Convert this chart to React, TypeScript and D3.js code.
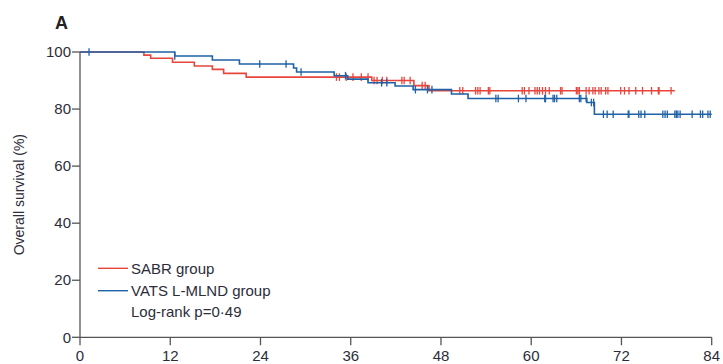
import * as d3 from "d3";

// Kaplan-Meier steps: [month, survival %]
const sabrSteps: [number, number][] = [
  [0, 100], [8.5, 98.9], [9.4, 97.8], [12.3, 96.4], [15.2, 95.1], [17.6, 93.9],
  [19.1, 92.5], [22.1, 91.2], [38.8, 90.0], [44.4, 88.2], [46.4, 86.4],
];
const sabrEnd = 79.1;
const sabrCensored = [
  34.1, 34.5, 35.4, 36.3, 37.4, 38.3, 39.1, 39.5, 40.2, 40.8, 42.8, 43.1, 43.9,
  45.5, 45.9, 50.5, 50.9, 52.6, 52.9, 53.2, 54.3, 54.5, 58.8, 59.1, 59.7, 60.5,
  60.8, 61.1, 61.5, 61.9, 62.4, 63.9, 64.1, 66.0, 66.2, 66.4, 67.3, 67.7, 68.2,
  68.5, 69.0, 69.3, 69.9, 70.2, 71.9, 72.4, 73.0, 73.9, 74.8, 76.0, 76.9, 77.0, 78.6,
];

const vatsSteps: [number, number][] = [
  [0, 100], [12.6, 98.6], [17.6, 97.2], [21.2, 95.8], [28.4, 94.4], [28.8, 93.0],
  [33.8, 91.7], [35.6, 90.5], [38.3, 89.2], [41.9, 88.1], [44.3, 86.8],
  [49.4, 85.3], [51.6, 83.7], [67.4, 82.3], [68.4, 78.2],
];
const vatsEnd = 84;
const vatsCensored = [
  1.2, 12.6, 23.9, 27.4, 29.4, 35.3, 40.1, 40.8, 44.6, 46.2, 46.8, 55.3, 55.6,
  58.3, 59.3, 61.8, 61.9, 62.9, 63.1, 63.4, 66.4, 66.6, 67.3, 68.0, 68.3, 69.6,
  70.1, 70.9, 72.9, 73.0, 74.3, 74.6, 75.1, 77.5, 77.8, 78.1, 79.1, 79.3, 79.5,
  79.8, 81.4, 82.5, 82.8, 83.5, 83.8,
];

const xTicks = [0, 12, 24, 36, 48, 60, 72, 84];
const yTicks = [0, 20, 40, 60, 80, 100];
const legendLabels = ["SABR group", "VATS L-MLND group"];
const pValueLabel = "Log-rank p=0·49";

const RED = "#e8453c";
const BLUE = "#1f62a6";
const FONT = "'Liberation Sans', Arial, sans-serif";

function survivalAt(steps: [number, number][], t: number) {
  let s = steps[0][1];
  for (const [m, v] of steps) if (m <= t) s = v;
  return s;
}

export default function App() {
  const width = 723;
  const height = 364;
  const x = d3.scaleLinear().domain([0, 84]).range([80, 711.7]);
  const y = d3.scaleLinear().domain([0, 100]).range([337.3, 52]);

  const line = d3
    .line<[number, number]>()
    .x((d) => x(d[0]))
    .y((d) => y(d[1]))
    .curve(d3.curveStepAfter);

  const curves = [
    { steps: sabrSteps, end: sabrEnd, cens: sabrCensored, color: RED },
    { steps: vatsSteps, end: vatsEnd, cens: vatsCensored, color: BLUE },
  ];

  return (
    <svg
      width={width}
      height={height}
      style={{ position: "absolute", left: 0, top: 0, fontFamily: FONT }}
    >
      <rect width={width} height={height} fill="#fff" />
      <text x={55} y={29} fontSize={18} fontWeight="bold" fill="#222">
        A
      </text>

      {/* axes */}
      <line x1={x(0)} x2={x(0)} y1={y(100)} y2={y(0)} stroke="#555" strokeWidth={1.3} />
      <line x1={x(0)} x2={x(84)} y1={y(0)} y2={y(0)} stroke="#555" strokeWidth={1.3} />
      {yTicks.map((t) => (
        <g key={"y" + t}>
          <line x1={x(0) - 8} x2={x(0)} y1={y(t)} y2={y(t)} stroke="#555" strokeWidth={1.3} />
          <text
            x={x(0) - 9}
            y={y(t)}
            dy="0.35em"
            textAnchor="end"
            fontSize={15}
            fill="#2d2d3a"
          >
            {t}
          </text>
        </g>
      ))}
      {xTicks.map((t) => (
        <g key={"x" + t}>
          <line x1={x(t)} x2={x(t)} y1={y(0)} y2={y(0) + 8} stroke="#555" strokeWidth={1.3} />
          <text x={x(t)} y={361} textAnchor="middle" fontSize={15} fill="#2d2d3a">
            {t}
          </text>
        </g>
      ))}
      <text
        transform={`translate(24,${(y(0) + y(100)) / 2}) rotate(-90)`}
        textAnchor="middle"
        fontSize={14}
        fill="#2d2d3a"
      >
        Overall survival (%)
      </text>

      {/* curves */}
      {curves.map((c, i) => {
        const last = c.steps[c.steps.length - 1][1];
        const pts: [number, number][] = [...c.steps, [c.end, last]];
        return (
          <g key={i}>
            <path d={line(pts) ?? ""} fill="none" stroke={c.color} strokeWidth={1.6} />
            {c.cens.map((t, j) => {
              const s = survivalAt(c.steps, t);
              return (
                <line
                  key={j}
                  x1={x(t)}
                  x2={x(t)}
                  y1={y(s) - 3.8}
                  y2={y(s) + 3.8}
                  stroke={c.color}
                  strokeWidth={1.3}
                />
              );
            })}
          </g>
        );
      })}

      {/* legend */}
      {legendLabels.map((label, i) => (
        <g key={label}>
          <line
            x1={98}
            x2={128}
            y1={268.3 + i * 22.4}
            y2={268.3 + i * 22.4}
            stroke={curves[i].color}
            strokeWidth={1.4}
          />
          <text x={131} y={273.5 + i * 22.4} fontSize={15} fill="#2d2d3a">
            {label}
          </text>
        </g>
      ))}
      <text x={131} y={317} fontSize={15} fill="#2d2d3a">
        {pValueLabel}
      </text>
    </svg>
  );
}
